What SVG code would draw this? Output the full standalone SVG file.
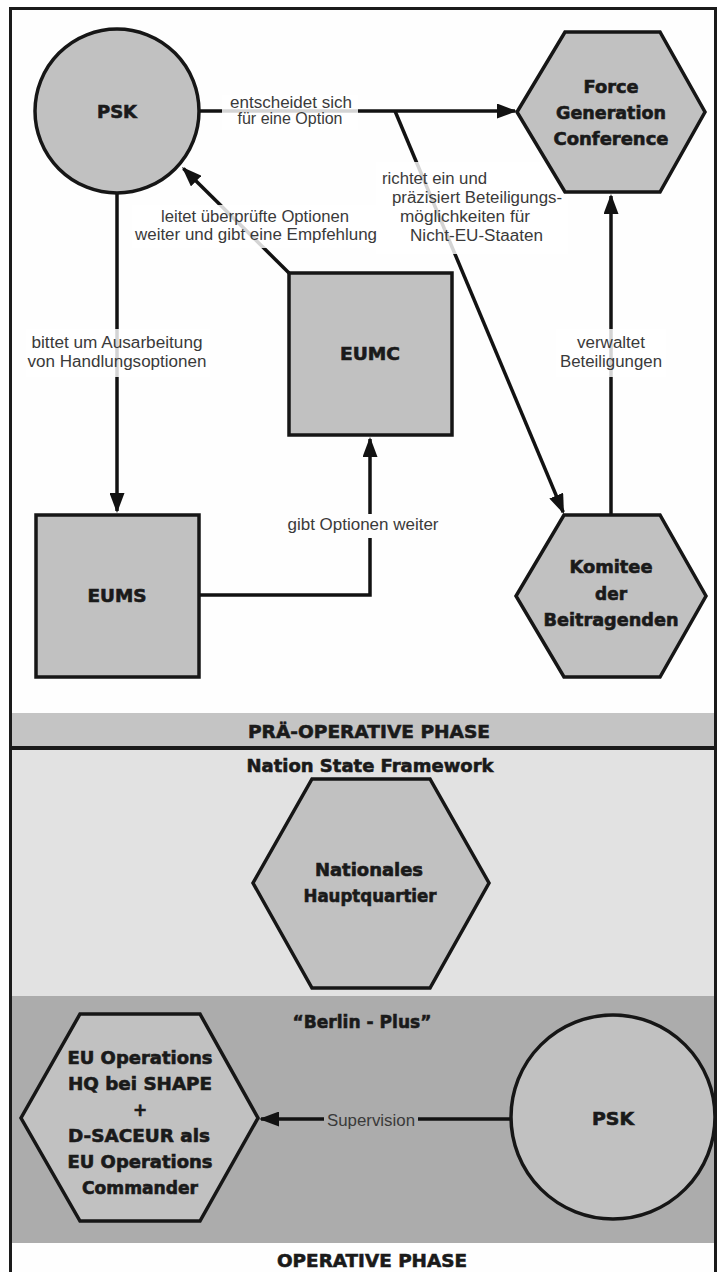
<svg xmlns="http://www.w3.org/2000/svg" width="717" height="1272" viewBox="0 0 717 1272">
<defs>
<style>
.node{fill:#c1c1c1;stroke:#161616;stroke-width:3.5}
.b{font-family:"DejaVu Sans","Liberation Sans",sans-serif;font-weight:bold;font-size:17px;fill:#1a1a1a;stroke:#1a1a1a;stroke-width:0.6;text-anchor:middle}
.t{font-family:"DejaVu Sans","Liberation Sans",sans-serif;font-weight:bold;font-size:18.5px;fill:#1a1a1a;stroke:#1a1a1a;stroke-width:0.6;text-anchor:middle}
.l{font-family:"Liberation Sans",Arial,sans-serif;font-size:16px;fill:#3a3a3a}
.c{stroke:#121212;stroke-width:3.5;fill:none}
.bg{fill:#ffffff;fill-opacity:0.82}
</style>
<marker id="ah" markerUnits="userSpaceOnUse" markerWidth="20" markerHeight="15" viewBox="0 0 20 15" refX="18" refY="7.5" orient="auto">
<path d="M0,0 L20,7.5 L0,15 z" fill="#121212"/>
</marker>
</defs>
<rect x="0" y="0" width="717" height="1272" fill="#fefefe"/>
<g id="bands">
<rect x="10" y="713" width="706" height="34" fill="#c4c4c4"/>
<rect x="10" y="750" width="706" height="246" fill="#e2e2e2"/>
<rect x="10" y="996" width="706" height="247" fill="#acacac"/>
<line x1="10" y1="748" x2="716" y2="748" stroke="#1a1a1a" stroke-width="4"/>
<text class="t" x="369" y="738" textLength="242" lengthAdjust="spacingAndGlyphs">PRÄ-OPERATIVE PHASE</text>
<text class="t" x="370" y="772" textLength="247" lengthAdjust="spacingAndGlyphs">Nation State Framework</text>
<text class="t" x="362" y="1028" textLength="139" lengthAdjust="spacingAndGlyphs">“Berlin - Plus”</text>
<text class="t" x="372" y="1267" textLength="190" lengthAdjust="spacingAndGlyphs">OPERATIVE PHASE</text>
</g>
<rect id="frame" x="10.5" y="8.5" width="705" height="1275" fill="none" stroke="#1a1a1a" stroke-width="3"/>
<g id="connectors">
<line class="c" x1="200" y1="111" x2="515" y2="111" marker-end="url(#ah)"/>
<line class="c" x1="395" y1="111" x2="563.2" y2="512.2" marker-end="url(#ah)"/>
<line class="c" x1="289" y1="273" x2="183.4" y2="168.4" marker-end="url(#ah)"/>
<line class="c" x1="117" y1="193" x2="117" y2="511" marker-end="url(#ah)"/>
<polyline class="c" points="199,595 370,595 370,439" marker-end="url(#ah)"/>
<line class="c" x1="611" y1="515" x2="611" y2="196" marker-end="url(#ah)"/>
<line class="c" x1="511" y1="1119" x2="261" y2="1119" marker-end="url(#ah)"/>
<rect class="bg" x="222" y="95" width="136" height="35"/>
<text class="l" x="291" y="108" text-anchor="middle" textLength="122" lengthAdjust="spacingAndGlyphs">entscheidet sich</text>
<text class="l" x="290" y="124" text-anchor="middle" textLength="105" lengthAdjust="spacingAndGlyphs">für eine Option</text>
<rect class="bg" x="376" y="162" width="192" height="92"/>
<text class="l" x="382" y="184" textLength="105" lengthAdjust="spacingAndGlyphs">richtet ein und</text>
<text class="l" x="392" y="203" textLength="170" lengthAdjust="spacingAndGlyphs">präzisiert Beteiligungs-</text>
<text class="l" x="400" y="222" textLength="130" lengthAdjust="spacingAndGlyphs">möglichkeiten für</text>
<text class="l" x="410" y="241" textLength="133" lengthAdjust="spacingAndGlyphs">Nicht-EU-Staaten</text>
<rect class="bg" x="132" y="205" width="244" height="43"/>
<text class="l" x="255" y="222" text-anchor="middle" textLength="188" lengthAdjust="spacingAndGlyphs">leitet überprüfte Optionen</text>
<text class="l" x="256" y="240" text-anchor="middle" textLength="242" lengthAdjust="spacingAndGlyphs">weiter und gibt eine Empfehlung</text>
<rect class="bg" x="26" y="329" width="184" height="48"/>
<text class="l" x="117" y="348" text-anchor="middle" textLength="171" lengthAdjust="spacingAndGlyphs">bittet um Ausarbeitung</text>
<text class="l" x="117" y="367" text-anchor="middle" textLength="179" lengthAdjust="spacingAndGlyphs">von Handlungsoptionen</text>
<rect class="bg" x="556" y="329" width="110" height="48"/>
<text class="l" x="611" y="348" text-anchor="middle" textLength="68" lengthAdjust="spacingAndGlyphs">verwaltet</text>
<text class="l" x="611" y="367" text-anchor="middle" textLength="102" lengthAdjust="spacingAndGlyphs">Beteiligungen</text>
<rect x="285" y="514" width="157" height="24" fill="#fefefe"/>
<text class="l" x="363" y="530" text-anchor="middle" textLength="151" lengthAdjust="spacingAndGlyphs">gibt Optionen weiter</text>
<rect x="324" y="1110" width="94" height="20" fill="#acacac"/>
<text class="l" x="371" y="1126" text-anchor="middle" font-size="15" textLength="88" lengthAdjust="spacingAndGlyphs">Supervision</text>
</g>
<g id="psk-top">
<circle class="node" cx="117" cy="111" r="82"/>
<text class="b" x="117" y="118" textLength="40" lengthAdjust="spacingAndGlyphs">PSK</text>
</g>
<g id="fgc">
<polygon class="node" points="565,32 660,32 705,112 660,192 565,192 517,112"/>
<text class="b" x="611" y="93" textLength="55" lengthAdjust="spacingAndGlyphs">Force</text>
<text class="b" x="611" y="119" textLength="110" lengthAdjust="spacingAndGlyphs">Generation</text>
<text class="b" x="611" y="145" textLength="115" lengthAdjust="spacingAndGlyphs">Conference</text>
</g>
<g id="eumc">
<rect class="node" x="289" y="273" width="163" height="162"/>
<text class="b" x="370" y="360" textLength="60" lengthAdjust="spacingAndGlyphs">EUMC</text>
</g>
<g id="eums">
<rect class="node" x="36" y="515" width="163" height="162"/>
<text class="b" x="117" y="602" textLength="59" lengthAdjust="spacingAndGlyphs">EUMS</text>
</g>
<g id="komitee">
<polygon class="node" points="564,515 660,515 706,596 660,677 564,677 516,596"/>
<text class="b" x="611" y="573" textLength="83" lengthAdjust="spacingAndGlyphs">Komitee</text>
<text class="b" x="611" y="600" textLength="32" lengthAdjust="spacingAndGlyphs">der</text>
<text class="b" x="611" y="626" textLength="135" lengthAdjust="spacingAndGlyphs">Beitragenden</text>
</g>
<g id="nationales-hq">
<polygon class="node" points="312,779 430,779 489,883 430,988 312,988 253,883"/>
<text class="b" x="369" y="876" textLength="108" lengthAdjust="spacingAndGlyphs">Nationales</text>
<text class="b" x="370" y="902" textLength="133" lengthAdjust="spacingAndGlyphs">Hauptquartier</text>
</g>
<g id="eu-ops-hq">
<polygon class="node" points="80,1014 200,1014 258,1118 200,1221 80,1221 21,1118"/>
<text class="b" x="140" y="1064" textLength="145" lengthAdjust="spacingAndGlyphs">EU Operations</text>
<text class="b" x="140" y="1090" textLength="144" lengthAdjust="spacingAndGlyphs">HQ bei SHAPE</text>
<text class="b" x="140" y="1116">+</text>
<text class="b" x="139" y="1142" textLength="142" lengthAdjust="spacingAndGlyphs">D-SACEUR als</text>
<text class="b" x="140" y="1168" textLength="145" lengthAdjust="spacingAndGlyphs">EU Operations</text>
<text class="b" x="140" y="1194" textLength="116" lengthAdjust="spacingAndGlyphs">Commander</text>
</g>
<g id="psk-bottom">
<circle class="node" cx="613" cy="1117" r="102"/>
<text class="b" x="613" y="1125" textLength="42" lengthAdjust="spacingAndGlyphs">PSK</text>
</g>
</svg>
